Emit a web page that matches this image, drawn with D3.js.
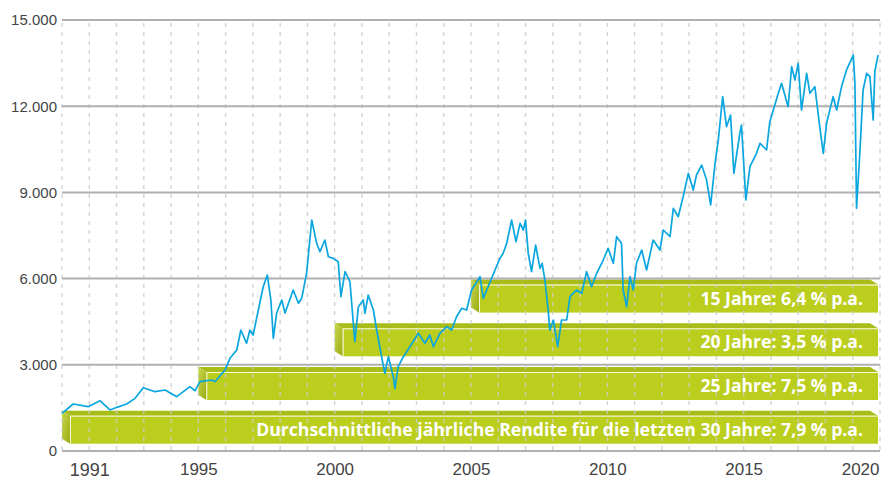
<!DOCTYPE html>
<html>
    <head>
        <meta charset="utf-8">
        <title>Index 30 Jahre</title>
        <script type="text/javascript" src="https://cdn.jsdelivr.net/npm/d3@7"></script>
        <style>
            body{
                margin:0;
                background:#fff;
            }
            .ylab text, .xlab text{
                font-family: "Liberation Sans", Arial, sans-serif;
                fill:#444;
            }
            #trace{
                stroke:#0aa6e0;
                stroke-width:1.7px;
                fill:none;
                stroke-linejoin:round;
            }
            .barlabel{
                font-family:"Open Sans", sans-serif;
                font-weight:bold;
                font-size:17.6px;
                fill:#fff;
            }
        </style>
    </head>
    <body>
        <script type="text/javascript">
            // Data (x in the chart's own year scale)
            let years = [1990.00,1990.41,1990.96,1991.39,1991.76,1992.01,1992.37,1992.68,1992.98,1993.41,1993.78,1994.21,1994.69,1994.88,
                1995.06,1995.49,1995.61,1995.98,1996.16,1996.41,1996.56,1996.77,1996.89,1997.01,1997.20,1997.38,1997.53,1997.66,1997.75,
                1997.87,1998.06,1998.18,1998.48,1998.67,1998.79,1998.97,1999.16,1999.34,1999.46,1999.64,1999.77,1999.95,2000.13,2000.23,
                2000.38,2000.56,2000.74,2000.87,2001.05,2001.11,2001.23,2001.42,2001.54,2001.72,2001.84,2001.97,2002.15,2002.21,2002.33,
                2002.52,2002.76,2003.07,2003.31,2003.49,2003.62,2003.86,2004.11,2004.29,2004.47,2004.66,2004.84,2005.02,2005.33,2005.45,
                2005.63,2005.88,2006.06,2006.18,2006.31,2006.49,2006.65,2006.80,2006.92,2007.00,2007.10,2007.22,2007.37,2007.53,2007.61,
                2007.71,2007.83,2007.89,2008.02,2008.18,2008.32,2008.51,2008.63,2008.87,2009.06,2009.24,2009.42,2009.61,2009.85,2010.03,
                2010.22,2010.34,2010.52,2010.58,2010.71,2010.83,2010.95,2011.07,2011.26,2011.44,2011.68,2011.93,2012.05,2012.30,2012.42,
                2012.60,2012.78,2012.97,2013.15,2013.27,2013.46,2013.64,2013.79,2013.95,2014.07,2014.23,2014.37,2014.52,2014.64,2014.86,
                2014.92,2015.08,2015.23,2015.47,2015.60,2015.84,2015.96,2016.27,2016.39,2016.63,2016.76,2016.88,2017.00,2017.12,2017.31,
                2017.43,2017.61,2017.79,2017.92,2018.04,2018.28,2018.41,2018.59,2018.77,2019.02,2019.08,2019.14,2019.26,2019.38,2019.51,
                2019.63,2019.75,2019.81,2019.93]
            let values = [1312,1636,1542,1750,1427,1520,1636,1833,2203,2064,2123,1890,2238,2098,
                2412,2471,2412,2819,3226,3515,4211,3748,4211,4037,4907,5718,6125,5255,3922,
                4792,5255,4802,5603,5140,5314,6184,8039,7228,6936,7343,6762,6705,6588,5371,
                6240,5892,3804,5022,5255,4792,5429,4907,4211,3282,2704,3282,2586,2182,2934,
                3282,3630,4096,3748,4037,3630,4096,4326,4211,4674,4966,4907,5603,6066,5314,
                5718,6299,6705,6880,7228,8039,7284,7924,7691,8039,6880,6240,7169,6358,6532,
                5951,4907,4211,4559,3630,4559,4559,5371,5603,5488,6240,5718,6184,6647,7054,
                6532,7458,7228,5603,5022,6066,5603,6532,6995,6299,7343,6995,7691,7458,8446,
                8154,8850,9664,9083,9605,9953,9431,8561,10012,10823,12330,11286,11693,9664,11056,
                11345,8735,9894,10360,10707,10475,11460,12448,12796,11982,13374,12911,13492,11867,13144,
                12448,12678,11286,10360,11404,12330,11867,12678,13259,13781,12796,8446,10360,12563,13144,
                13028,11518,13201,13781]

            let yTicks = [0,3000,6000,9000,12000,15000]
            let xTicks = [1991,1995,2000,2005,2010,2015,2020]
            let barStart = [2005,2000,1995,1990]
            let barLabels = ["15 Jahre: 6,4 % p.a.",
                             "20 Jahre: 3,5 % p.a.",
                             "25 Jahre: 7,5 % p.a.",
                             "Durchschnittliche jährliche Rendite für die letzten 30 Jahre: 7,9 % p.a."]

            // Make graph
            let w = 891
            let h = 479
            let svg = d3.select("body")
                        .append("svg")
                        .attr("width",w)
                        .attr("height",h)
            let xScale = d3.scaleLinear()
                            .domain([1990,2020])
                            .range([62,880])
            let yScale = d3.scaleLinear()
                            .domain([0,15000])
                            .range([451,20])
            let de = d3.formatLocale({decimal:",",thousands:".",grouping:[3],currency:["","€"]})

            // gradient for the side of the boxes
            let defs = svg.append("defs")
            let grad = defs.append("linearGradient")
                            .attr("id","side")
                            .attr("x1","0").attr("y1","0")
                            .attr("x2","1").attr("y2","1")
            grad.append("stop").attr("offset","0").attr("stop-color","#c9d84e")
            grad.append("stop").attr("offset","1").attr("stop-color","#98aa12")

            // Boxes
            let depthX = 8
            let depthY = 5
            let boxH = 28
            let rowTop = i => yScale(6000) + 1 + i*43.7
            let right = xScale(2020) - 2
            let boxes = svg.append("g")
            barStart.forEach(function(s,i){
                let x0 = xScale(s)
                let y0 = rowTop(i)
                let g = boxes.append("g")
                // top face
                g.append("polygon")
                    .attr("points",[[x0,y0],[right-depthX,y0],[right,y0+depthY],[x0+depthX,y0+depthY]].join(" "))
                    .attr("fill","#a9bd18")
                // side face
                g.append("polygon")
                    .attr("points",[[x0,y0],[x0+depthX,y0+depthY],[x0+depthX,y0+depthY+boxH],[x0,y0+boxH]].join(" "))
                    .attr("fill","url(#side)")
                // front face
                g.append("rect")
                    .attr("x",x0+depthX)
                    .attr("y",y0+depthY)
                    .attr("width",right-x0-depthX)
                    .attr("height",boxH)
                    .attr("fill","#bbce1e")
                g.append("polyline")
                    .attr("points",[[x0+depthX+0.5,y0+depthY+boxH],[x0+depthX+0.5,y0+depthY+0.5],[right,y0+depthY+0.5]].join(" "))
                    .attr("fill","none")
                    .attr("stroke","#f4f8dc")
                    .attr("stroke-width",1)
            })

            // Grid
            svg.append("g")
                .selectAll("line")
                .data(d3.range(1990,2021))
                .enter()
                .append("line")
                .attr("x1",d=>xScale(d))
                .attr("x2",d=>xScale(d))
                .attr("y1",yScale(15000)+3)
                .attr("y2",yScale(0))
                .attr("stroke","rgba(205,205,205,0.85)")
                .attr("stroke-width",1.4)
                .attr("stroke-dasharray","4,5")
            svg.append("g")
                .selectAll("line")
                .data(yTicks)
                .enter()
                .append("line")
                .attr("x1",xScale(1990))
                .attr("x2",xScale(2020))
                .attr("y1",d=>yScale(d))
                .attr("y2",d=>yScale(d))
                .attr("stroke","#b0b0b0")
                .attr("stroke-width",2)

            // Axes (labels only)
            let yAxis = d3.axisLeft(yScale)
                            .tickValues(yTicks)
                            .tickFormat(d=>d===0 ? "0" : de.format(",")(d))
                            .tickSize(0)
                            .tickPadding(5)
            let gy = svg.append("g")
                .attr("class","ylab")
                .attr("transform","translate("+xScale(1990)+",0)")
                .call(yAxis)
            gy.select(".domain").remove()
            gy.selectAll("text").attr("font-size",15)

            let xAxis = d3.axisBottom(xScale)
                            .tickValues(xTicks)
                            .tickFormat(d=>String(d))
                            .tickSize(0)
                            .tickPadding(12)
            let gx = svg.append("g")
                .attr("class","xlab")
                .attr("transform","translate(0,"+yScale(0)+")")
                .call(xAxis)
            gx.select(".domain").remove()
            gx.selectAll("text")
                .attr("font-size",d=>d===1991 ? 18 : 17)
            gx.selectAll("text")
                .filter(d=>d===2020)
                .attr("text-anchor","end")
                .attr("x",-1)

            // Line
            let path = d3.line()
                            .x((d,i)=>xScale(years[i]))
                            .y(d=>yScale(d))
            svg.append("path")
                .datum(values)
                .attr("d",path)
                .attr("id","trace")

            // Box labels
            svg.append("g")
                .selectAll("text")
                .data(barLabels)
                .enter()
                .append("text")
                .attr("class","barlabel")
                .attr("x",right-15)
                .attr("y",(d,i)=>rowTop(i)+depthY+boxH/2+6)
                .attr("text-anchor","end")
                .text(d=>d)
        </script>
    </body>
</html>
